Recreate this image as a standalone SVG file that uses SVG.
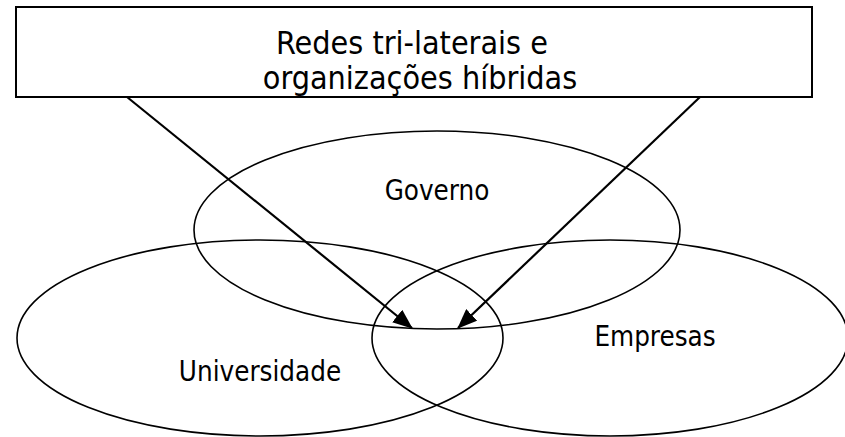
<svg xmlns="http://www.w3.org/2000/svg" width="845" height="437" viewBox="0 0 845 437">
<style>
  .shape { fill: none; stroke: #000; stroke-width: 1.6; }
  .box { fill: #fff; stroke: #000; stroke-width: 2; }
  .lbl { font-family: "DejaVu Sans Condensed", sans-serif; font-size: 27.5px; fill: #000; text-anchor: middle; }
  .ttl { font-family: "DejaVu Sans Condensed", sans-serif; font-size: 32px; fill: #000; text-anchor: middle; }
  .conn { stroke: #000; stroke-width: 2.2; fill: none; marker-end: url(#ah); }
</style>
<defs>
  <marker id="ah" markerUnits="userSpaceOnUse" markerWidth="20" markerHeight="16" refX="19" refY="8" orient="auto">
    <path d="M0,0 L20,8 L0,16 z" fill="#000"/>
  </marker>
</defs>
<rect width="845" height="437" fill="#fff"/>
<g id="universidade">
  <ellipse class="shape" cx="260" cy="338" rx="243" ry="98"/>
  <text class="lbl" x="260" y="381">Universidade</text>
</g>
<g id="empresas">
  <ellipse class="shape" cx="610" cy="338" rx="238" ry="98"/>
  <text class="lbl" x="655" y="346">Empresas</text>
</g>
<g id="governo">
  <ellipse class="shape" cx="437" cy="230" rx="243" ry="99"/>
  <text class="lbl" x="437" y="200">Governo</text>
</g>
<g id="redes">
  <rect class="box" x="16" y="7" width="796" height="90"/>
  <text class="ttl" x="412" y="54">Redes tri-laterais e</text>
  <text class="ttl" x="420" y="89">organizações híbridas</text>
</g>
<g id="connectors">
  <line class="conn" x1="127" y1="97" x2="412" y2="328"/>
  <line class="conn" x1="700" y1="97" x2="458" y2="328"/>
</g>
</svg>
